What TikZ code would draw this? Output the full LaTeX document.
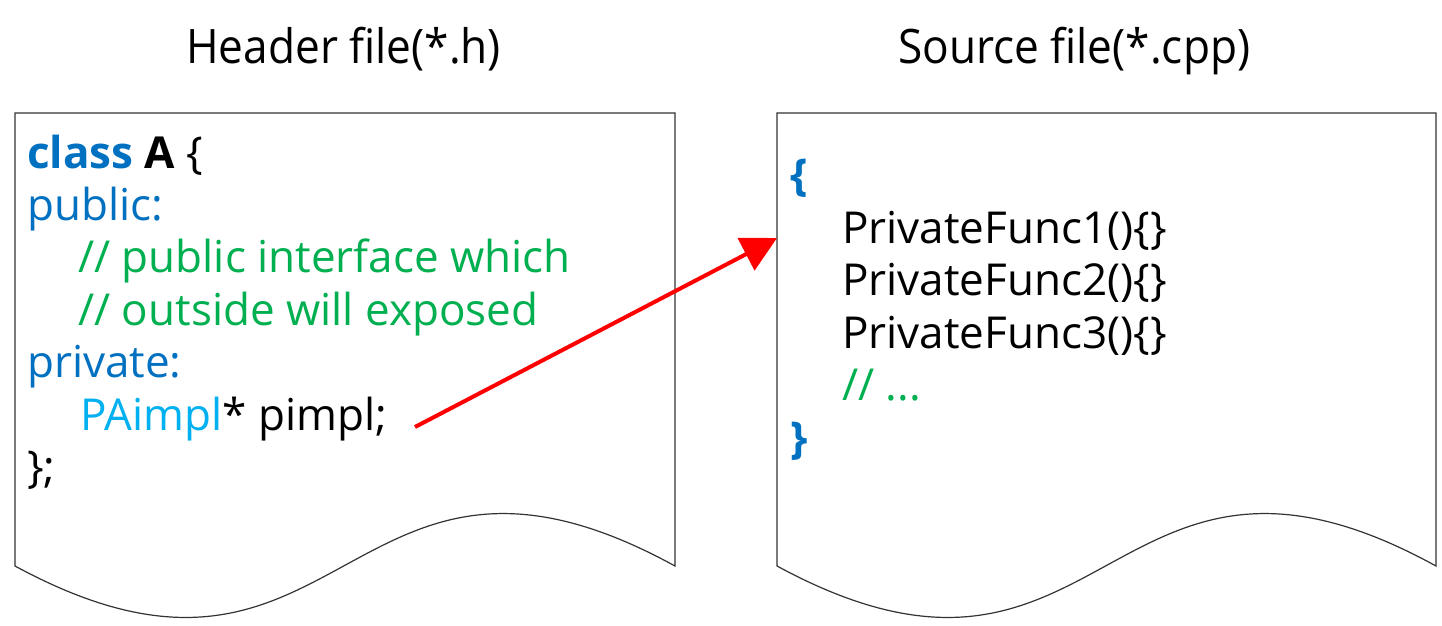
\documentclass[tikz,border=0pt]{standalone}
\usepackage{fontspec}
\setmainfont{Open Sans}
\newfontfamily\titlefont[FakeStretch=0.93]{Open Sans}
\usetikzlibrary{arrows.meta}
\definecolor{kwblue}{RGB}{0,112,192}
\definecolor{cmtgreen}{RGB}{0,176,80}
\definecolor{typeblue}{RGB}{0,176,240}
\definecolor{arrowred}{RGB}{255,0,0}
\begin{document}
\begin{tikzpicture}[x=1pt,y=-1pt,
  title/.style={font=\titlefont\fontsize{47.5}{57}\selectfont, anchor=base west, inner sep=0pt},
  code/.style={font=\fontsize{44}{53}\selectfont, anchor=base west, inner sep=0pt},
  doc/.style={draw=black!80, line width=1.2pt, fill=white},
  link/.style={draw=arrowred, line width=4pt, -{Triangle[length=35pt,width=36pt]}}]
\useasboundingbox (0,0) rectangle (1442,625);
% document shapes
\draw[doc] (15,113) -- (675,113) -- (675,566) .. controls (345,385) and (345,745) .. (15,566) -- cycle;
\draw[doc] (777,113) -- (1436,113) -- (1436,566) .. controls (1107,385) and (1107,745) .. (777,566) -- cycle;
% titles
\node[title] (th) at (186,63) {Header file(*.h)};
\node[title] (ts) at (898,63) {Source file(*.cpp)};
% header code
\node[code] (l1) at (27,168) {\textcolor{kwblue}{\textbf{class}} \textbf{A} \{};
\node[code,text=kwblue] (l2) at (27,220) {public:};
\node[code,text=cmtgreen] (l3) at (78,272) {// public interface which};
\node[code,text=cmtgreen] (l4) at (78,325) {// outside will exposed};
\node[code,text=kwblue] (l5) at (27,377) {private:};
\node[code] (l6) at (80,430) {\textcolor{typeblue}{PAimpl}* pimpl;};
\node[code] (l7) at (27,482) {\};};
% source code
\node[code,text=kwblue] (r1) at (790,190) {\textbf{\{}};
\node[code] (r2) at (842,243) {PrivateFunc1()\{\}};
\node[code] (r3) at (842,295.5) {PrivateFunc2()\{\}};
\node[code] (r4) at (842,348) {PrivateFunc3()\{\}};
\node[code,text=cmtgreen] (r5) at (842,400.5) {// ...};
\node[code,text=kwblue] (r6) at (790,453) {\textbf{\}}};
% arrow
\coordinate (from) at (415,427);
\coordinate (to) at (777,238);
\draw[link] (from) -- (to);
\end{tikzpicture}
\end{document}
